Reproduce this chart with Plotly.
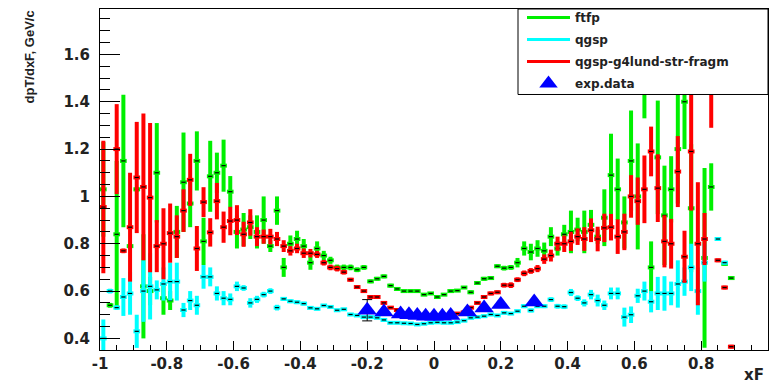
import plotly.graph_objects as go

# bin centres (xF)
xF = [-0.99, -0.97, -0.95, -0.93, -0.91, -0.89, -0.87, -0.85, -0.83, -0.81,
      -0.79, -0.77, -0.75, -0.73, -0.71, -0.69, -0.67, -0.65, -0.63, -0.61,
      -0.59, -0.57, -0.55, -0.53, -0.51, -0.49, -0.47, -0.45, -0.43, -0.41,
      -0.39, -0.37, -0.35, -0.33, -0.31, -0.29, -0.27, -0.25, -0.23, -0.21,
      -0.19, -0.17, -0.15, -0.13, -0.11, -0.09, -0.07, -0.05, -0.03, -0.01,
      0.01, 0.03, 0.05, 0.07, 0.09, 0.11, 0.13, 0.15, 0.17, 0.19,
      0.21, 0.23, 0.25, 0.27, 0.29, 0.31, 0.33, 0.35, 0.37, 0.39,
      0.41, 0.43, 0.45, 0.47, 0.49, 0.51, 0.53, 0.55, 0.57, 0.59,
      0.61, 0.63, 0.65, 0.67, 0.69, 0.71, 0.73, 0.75, 0.77, 0.79,
      0.81, 0.83, 0.85, 0.87, 0.89]

ftfp_val = [1.03, 0.54, 0.84, 1.15, 0.79, 1.03, 0.62, 0.60, 1.10, 0.57,
            0.56, 0.85, 1.06, 0.97, 1.15, 0.81, 1.085, 1.10, 1.13, 1.02,
            0.85, 0.86, 0.87, 0.85, 0.90, 0.79, 0.94, 0.70, 0.80, 0.82,
            0.79, 0.72, 0.78, 0.75, 0.73, 0.70, 0.70, 0.70, 0.69, 0.70,
            0.641, 0.652, 0.662, 0.623, 0.609, 0.60, 0.60, 0.60, 0.585, 0.59,
            0.575, 0.585, 0.60, 0.602, 0.615, 0.595, 0.634, 0.652, 0.655, 0.705,
            0.697, 0.70, 0.72, 0.78, 0.765, 0.78, 0.77, 0.83, 0.78, 0.84,
            0.85, 0.86, 0.85, 0.88, 0.83, 0.91, 1.09, 1.03, 0.89, 1.15,
            1.0, 1.45, 0.70, 1.165, 0.92, 1.03, 1.2, 1.4, 0.95, None,
            0.74, 1.04, None, 0.715, 0.655]
ftfp_err = [0.20, 0.01, 0.31, 0.28, 0.01, 0.01, 0.22, 0.06, 0.21, 0.07,
            0.04, 0.11, 0.21, 0.10, 0.125, 0.10, 0.15, 0.085, 0.11, 0.066,
            0.07, 0.07, 0.05, 0.07, 0.10, 0.025, 0.06, 0.04, 0.035, 0.035,
            0.03, 0.03, 0.03, 0.02, 0.015, 0.012, 0.012, 0.012, 0.01, 0.01,
            0.008, 0.008, 0.008, 0.008, 0.008, 0.006, 0.006, 0.006, 0.006, 0.006,
            0.006, 0.006, 0.006, 0.006, 0.006, 0.008, 0.008, 0.008, 0.008, 0.008,
            0.01, 0.01, 0.02, 0.03, 0.035, 0.035, 0.035, 0.04, 0.03, 0.04,
            0.09, 0.05, 0.09, 0.063, 0.03, 0.12, 0.175, 0.13, 0.11, 0.213,
            0.224, 0.12, 0.11, 0.24, 0.21, 0.14, 0.23, 0.2, 0.27, None,
            0.38, 0.10, None, 0.008, 0.008]

qgsp_val = [0.40, 0.60, 0.53, 0.575, 0.59, 0.43, 0.60, 0.62, 0.605, 0.63,
            0.64, 0.64, 0.52, 0.56, 0.54, 0.66, 0.66, 0.59, 0.57, 0.565,
            0.62, 0.613, 0.55, 0.565, 0.585, 0.60, 0.53, 0.567, 0.557, 0.553,
            0.547, 0.529, 0.525, 0.539, 0.533, 0.519, 0.523, 0.501, 0.497, 0.49,
            0.49, 0.487, 0.478, 0.466, 0.466, 0.464, 0.463, 0.459, 0.462, 0.466,
            0.468, 0.466, 0.466, 0.469, 0.475, 0.487, 0.49, 0.494, 0.501, 0.497,
            0.508, 0.505, 0.515, 0.536, 0.518, 0.536, 0.536, 0.564, 0.536, 0.534,
            0.594, 0.57, 0.55, 0.585, 0.56, 0.54, 0.59, 0.59, 0.49, 0.50,
            0.58, 0.60, 0.555, 0.59, 0.59, 0.59, 0.63, 0.64, 0.70, 0.60,
            0.72, None, 0.82, 0.72, None]
qgsp_err = [0.08, 0.01, 0.01, 0.08, 0.09, 0.07, 0.13, 0.14, 0.04, 0.07,
            0.08, 0.08, 0.03, 0.04, 0.04, 0.05, 0.04, 0.03, 0.03, 0.025,
            0.02, 0.012, 0.02, 0.015, 0.012, 0.012, 0.012, 0.008, 0.008, 0.008,
            0.008, 0.006, 0.006, 0.006, 0.006, 0.006, 0.006, 0.006, 0.006, 0.006,
            0.006, 0.006, 0.006, 0.006, 0.006, 0.005, 0.005, 0.005, 0.005, 0.005,
            0.005, 0.005, 0.005, 0.005, 0.005, 0.006, 0.006, 0.006, 0.006, 0.006,
            0.006, 0.006, 0.006, 0.008, 0.008, 0.008, 0.008, 0.01, 0.01, 0.01,
            0.015, 0.012, 0.015, 0.02, 0.025, 0.02, 0.025, 0.025, 0.04, 0.035,
            0.03, 0.04, 0.045, 0.07, 0.073, 0.05, 0.10, 0.06, 0.10, 0.10,
            0.08, None, 0.008, 0.008, None]

lund_val = [0.955, None, 1.20, 0.77, 0.87, 1.08, 1.04, 0.995, 0.79, 0.80,
            0.845, 0.83, 0.94, 1.07, 0.78, 0.976, 0.848, 0.98, 0.87, 0.896,
            0.90, 0.84, 0.89, 0.83, 0.83, 0.83, 0.82, 0.79, 0.77, 0.78,
            0.76, 0.76, 0.755, 0.72, 0.70, 0.695, 0.68, 0.648, 0.617, 0.60,
            0.575, 0.575, 0.55, 0.53, 0.52, 0.505, 0.50, 0.497, 0.495, 0.495,
            0.495, 0.497, 0.50, 0.505, 0.51, 0.53, 0.55, 0.575, 0.59, 0.595,
            0.625, 0.625, 0.648, 0.675, 0.685, 0.695, 0.735, 0.75, 0.80, 0.80,
            0.81, 0.83, 0.82, 0.857, 0.82, 0.867, 0.87, 0.83, 0.85, 1.0,
            0.98, 1.03, 1.19, 1.035, 0.81, 0.80, 1.105, 0.745, 1.19, 0.80,
            0.82, 1.45, 0.73, 0.615, 0.365]
lund_err = [0.28, None, 0.19, 0.01, 0.23, 0.235, 0.31, 0.315, 0.11, 0.15,
            0.125, 0.09, 0.09, 0.11, 0.095, 0.063, 0.06, 0.077, 0.066, 0.06,
            0.063, 0.053, 0.056, 0.04, 0.03, 0.033, 0.03, 0.025, 0.02, 0.02,
            0.02, 0.018, 0.015, 0.012, 0.012, 0.012, 0.01, 0.008, 0.008, 0.006,
            0.006, 0.006, 0.006, 0.006, 0.005, 0.005, 0.005, 0.005, 0.005, 0.005,
            0.005, 0.005, 0.005, 0.005, 0.005, 0.006, 0.006, 0.006, 0.008, 0.008,
            0.01, 0.012, 0.01, 0.012, 0.012, 0.015, 0.02, 0.025, 0.03, 0.035,
            0.04, 0.035, 0.05, 0.05, 0.052, 0.06, 0.056, 0.073, 0.077, 0.09,
            0.10, 0.143, 0.105, 0.143, 0.11, 0.105, 0.15, 0.11, 0.25, 0.26,
            0.11, 0.16, 0.008, 0.008, 0.008]

exp_x = [-0.2, -0.15, -0.1, -0.075, -0.05, -0.025, 0.0, 0.025, 0.05, 0.1, 0.15, 0.2, 0.3]
exp_val = [0.519, 0.512, 0.503, 0.500, 0.497, 0.494, 0.494, 0.494, 0.497, 0.512, 0.529, 0.543, 0.554]
exp_err = [0.045, 0, 0, 0, 0, 0, 0, 0, 0, 0, 0, 0, 0]

x_ticks = [-1, -0.8, -0.6, -0.4, -0.2, 0, 0.2, 0.4, 0.6, 0.8, 1]
x_ticktext = ["-1", "-0.8", "-0.6", "-0.4", "-0.2", "0", "0.2", "0.4", "0.6", "0.8", "1"]
y_ticks = [0.4, 0.6, 0.8, 1.0, 1.2, 1.4, 1.6]
y_ticktext = ["0.4", "0.6", "0.8", "1", "1.2", "1.4", "1.6"]

GREEN = "#00f000"
CYAN = "#00ffff"
RED = "#ff0000"
BLUE = "#0000ff"

series = [("ftfp", GREEN, ftfp_val, ftfp_err),
          ("qgsp", CYAN, qgsp_val, qgsp_err),
          ("qgsp-g4lund-str-fragm", RED, lund_val, lund_err)]

fig = go.Figure()

# legend entries (line samples)
for name, color, _, _ in series:
    fig.add_trace(go.Scatter(x=[None], y=[None], mode="lines", name=name,
                             legendgroup=name, line=dict(color=color, width=3)))

# histograms drawn as thick error crosses with a small black marker
for name, color, vals, errs in series:
    fig.add_trace(go.Scatter(
        x=xF, y=vals, mode="markers", showlegend=False, hoverinfo="skip",
        marker=dict(symbol="line-ew", size=3, color="black",
                    line=dict(width=1.2, color="black")),
        error_y=dict(type="data", array=errs, visible=True, color=color,
                     thickness=4, width=0),
        error_x=dict(type="constant", value=0.01, visible=True, color=color,
                     thickness=4, width=0)))

fig.add_trace(go.Scatter(
    x=exp_x, y=exp_val, mode="markers", name="exp.data", legendgroup="exp",
    marker=dict(symbol="triangle-up", size=17, color=BLUE, line=dict(width=0)),
    error_y=dict(type="data", array=exp_err, visible=True, color="black",
                 thickness=1, width=5)))

tick_font = dict(family="DejaVu Sans", size=15, color="#222", weight="bold")

fig.update_layout(
    width=771, height=384,
    margin=dict(l=100, r=3, t=7, b=34, pad=0),
    paper_bgcolor="white", plot_bgcolor="white",
    showlegend=True,
    legend=dict(x=(522 - 100) / 668, xanchor="left", y=1.0 + 6 / 343, yanchor="top",
                bgcolor="rgba(0,0,0,0)", borderwidth=0, itemwidth=43,
                font=dict(family="DejaVu Sans", size=12, color="#222", weight="bold"),
                tracegroupgap=3),
    xaxis=dict(range=[-1, 1], showgrid=False, zeroline=False,
               showline=True, linecolor="black", linewidth=1, mirror=True,
               tickmode="array", tickvals=x_ticks, ticktext=x_ticktext,
               ticks="inside", ticklen=9, tickwidth=1, tickcolor="black",
               tickfont=tick_font, ticklabelstandoff=0,
               minor=dict(tickmode="linear", tick0=0, dtick=0.05, ticks="inside",
                          ticklen=5, tickwidth=1, tickcolor="black")),
    yaxis=dict(range=[0.351, 1.792], showgrid=False, zeroline=False,
               showline=True, linecolor="black", linewidth=1, mirror=True,
               tickmode="array", tickvals=y_ticks, ticktext=y_ticktext,
               ticks="inside", ticklen=20, tickwidth=1, tickcolor="black",
               tickfont=tick_font, ticklabelstandoff=6,
               minor=dict(tickmode="linear", tick0=0, dtick=0.05, ticks="inside",
                          ticklen=10, tickwidth=1, tickcolor="black")),
    shapes=[dict(type="rect", xref="paper", yref="paper",
                 x0=(518 - 100) / 668, x1=1.0, y0=(350 - 93) / 343, y1=1.0,
                 fillcolor="white", line=dict(color="black", width=1), layer="above")],
    annotations=[
        dict(text="dpT/dxF, GeV/c", xref="paper", yref="paper",
             x=(29 - 100) / 668, y=1.0, xanchor="center", yanchor="top",
             textangle=-90, showarrow=False,
             font=dict(family="Liberation Sans", size=13, color="#222", weight="bold")),
        dict(text="xF", xref="paper", yref="paper",
             x=(766 - 100) / 668, y=(350 - 375) / 343, xanchor="right", yanchor="middle",
             showarrow=False,
             font=dict(family="DejaVu Sans", size=15, color="#222", weight="bold")),
    ],
)

fig.write_html("out.html", config={"displayModeBar": False},
               post_script="document.body.style.margin='0';")
